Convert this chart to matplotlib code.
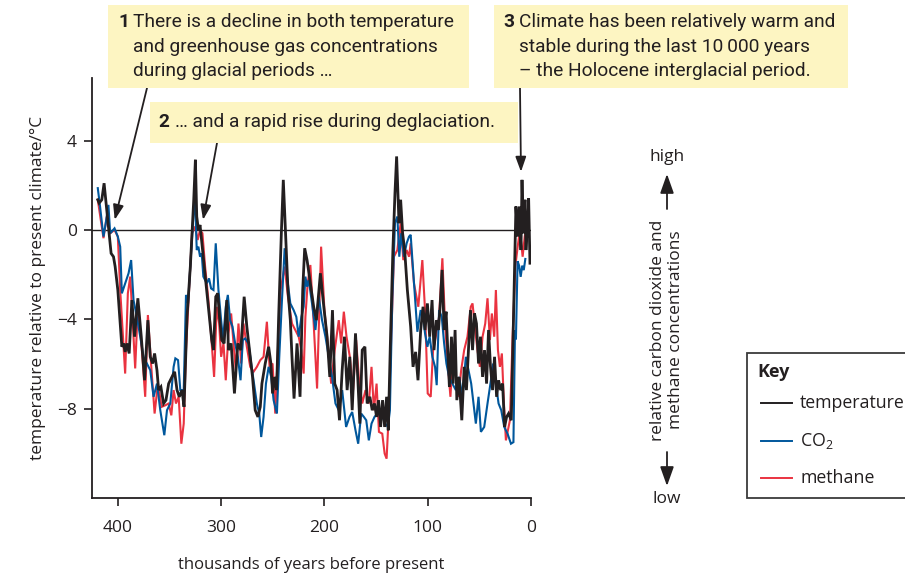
import matplotlib
matplotlib.use("Agg")
import matplotlib.pyplot as plt
from matplotlib.patches import Rectangle, FancyArrowPatch
from matplotlib.lines import Line2D

plt.rcParams['font.family'] = ['Open Sans', 'DejaVu Sans']

# thousands of years before present / degrees relative to present
temp_age = [419.4, 418.1, 415.5, 413.3, 410.7, 408.4, 406.5, 404.2, 402.6, 400.0, 397.7, 396.1, 394.5, 392.9,
            391.3, 389.0, 386.4, 383.8, 380.6, 377.3, 374.1, 370.9, 368.6, 366.3, 364.4, 362.1, 360.5, 358.3,
            355.7, 353.4, 350.8, 347.6, 345.0, 342.7, 340.5, 337.9, 335.9, 333.0, 329.8, 326.5, 324.9,
            323.6, 322.0, 320.4, 309.1, 307.4, 305.2, 303.2, 301.6, 299.4, 297.1, 294.5, 292.9, 290.3, 287.1,
            283.8, 280.9, 277.7, 275.1, 272.5, 269.6, 267.0, 264.4, 262.1, 260.5, 257.3, 254.0, 251.8, 250.2,
            248.2, 246.3, 244.3, 241.7, 239.8, 237.9, 235.3, 233.0, 231.4, 229.4, 226.5, 223.6, 221.0, 219.1,
            216.8, 213.6, 210.4, 207.8, 203.9, 200.6, 197.4, 194.8, 192.2, 190.0, 187.7, 185.4, 182.8, 180.6,
            178.0, 175.4, 173.1, 169.9, 167.6, 165.7, 163.4, 160.8, 158.6, 156.0, 153.7, 151.5, 149.5, 147.6,
            145.6, 143.7, 141.7, 139.8, 138.2, 135.9, 133.7, 131.7, 130.1, 127.8, 126.2, 124.3, 122.3, 119.7,
            116.5, 114.2, 111.7, 109.4, 106.8, 104.5, 102.6, 100.3, 98.1, 95.8, 93.9, 91.6, 89.6, 88.0, 86.1,
            84.1, 82.2, 80.6, 79.0, 77.0, 75.4, 73.5, 71.8, 69.6, 67.0, 64.7, 62.5, 60.5, 58.6, 56.6, 54.7,
            52.8, 50.8, 48.9, 46.9, 45.0, 43.0, 41.1, 39.2, 37.2, 35.3, 33.3, 31.4, 29.4, 27.5, 25.6, 23.6,
            21.7, 19.1, 17.2, 14.6, 12.9, 11.3, 9.7, 8.7, 7.4, 5.8, 4.9, 3.6, 2.3, 1.0]
temp_val = [1.35, 1.2, 1.35, 2.09, 0.9, -0.15, -1.05, -1.2, -1.64, -2.69, -4.19, -5.23, -5.08, -5.46,
            -5.08, -5.53, -3.14, -4.78, -3.06, -4.78, -6.73, -4.04, -5.68, -5.98, -5.53, -6.28, -7.17, -7.03,
            -7.77, -7.62, -6.88, -6.58, -6.35, -7.17, -7.47, -7.17, -7.92, -3.89, -1.64, 1.35, 3.14,
            0.6, 0.0, 0.22, -4.93, -5.38, -2.99, -2.84, -3.89, -4.93, -5.08, -3.14, -5.38, -5.08, -7.32,
            -5.08, -5.38, -2.99, -4.33, -5.38, -6.58, -8.07, -8.37, -7.92, -6.88, -5.98, -5.23, -5.98, -7.32,
            -6.58, -7.17, -3.89, -0.15, 2.24, 0.15, -2.69, -4.04, -5.68, -7.55, -5.08, -7.47, -2.69, -0.82,
            -1.35, -2.39, -3.44, -4.04, -1.94, -3.44, -4.78, -6.58, -3.59, -6.88, -7.17, -8.52, -6.28, -4.78,
            -7.17, -5.68, -8.07, -4.63, -6.73, -8.67, -5.38, -5.23, -7.77, -7.47, -8.07, -7.77, -8.37, -7.62,
            -8.82, -7.62, -8.82, -7.47, -8.97, -4.63, -0.9, 1.64, 3.29, 0.3, 1.35, -0.15, -0.9, -2.69,
            -4.33, -6.13, -5.46, -6.73, -4.48, -3.44, -4.48, -3.29, -4.78, -3.14, -5.38, -4.04, -4.48, -3.44, -1.79,
            -4.48, -3.66, -5.38, -7.03, -4.78, -6.88, -4.48, -7.62, -6.58, -8.52, -6.13, -7.17, -5.38, -3.59, -5.38, -3.74,
            -4.19, -5.98, -4.78, -6.58, -5.38, -6.88, -4.48, -6.13, -7.17, -5.68, -7.47, -6.73, -7.17, -6.88, -8.82, -8.37,
            -8.22, -8.52, -4.48, 1.05, -0.3, 1.05, -0.9, 2.24, -0.15, 1.35, -0.9, 0.15, 1.42, -1.49]

co2_age = [419.4, 417.2, 413.9, 411.7, 409.1, 407.4, 405.8, 403.2, 400.0, 397.7, 396.1, 392.9, 389.6, 387.1,
           384.8, 381.6, 378.3, 375.1, 371.8, 368.6, 365.4, 362.1, 358.9, 355.0, 352.4, 349.2, 346.0, 344.3,
           341.7, 339.5, 336.2, 334.0, 332.0, 329.8, 326.5,
           325.2, 323.6, 322.0, 320.4, 318.8, 317.2, 313.9, 311.7, 309.7, 307.4, 305.2, 302.6, 300.0, 298.1,
           295.5, 293.5, 291.3, 289.0, 286.4, 283.8, 281.2, 279.0, 276.7, 273.5, 270.9, 268.6, 265.4, 263.1,
           261.2, 258.9, 256.6, 254.0, 251.5, 249.2, 246.0, 243.7, 241.1, 238.5, 236.2, 233.0, 229.8, 227.2,
           224.9, 222.3, 220.1,
           218.4, 216.8, 215.2, 212.0, 208.7, 205.5, 202.3, 199.0, 195.8, 192.6, 189.3, 186.1, 182.8, 179.0,
           175.7, 173.1, 169.9, 167.3, 164.4, 161.8, 159.5, 157.0, 154.4, 151.5, 148.9, 146.3, 143.7, 141.1,
           138.5, 136.6, 134.3, 131.7, 129.4, 127.5, 125.6, 123.0, 120.4, 118.1,
           116.5, 113.3, 110.0, 106.8, 104.5, 102.6, 100.3, 98.1, 95.5, 92.9, 91.3, 89.0, 86.4, 84.1, 81.9,
           79.3, 76.1, 72.8, 69.6, 66.3, 63.1, 60.5, 57.9, 55.7, 53.4, 50.8, 48.5, 45.3, 42.1, 38.8, 36.6,
           34.0, 31.4, 28.8, 25.9, 22.7, 19.4, 17.0, 15.5, 14.6, 13.0, 11.5, 10.0, 8.5, 7.0, 5.5]
co2_val = [1.87, 1.05, -0.3, 0.3, 1.12, -0.15, -0.07, 0.07, -0.3, -0.75, -2.84, -2.39, -1.94, -1.35,
           -3.14, -3.89, -4.78, -5.68, -5.98, -6.28, -7.47, -6.88, -8.07, -9.19, -8.07, -7.77, -6.13, -5.75,
           -5.83, -7.17, -7.17, -2.91, -3.29, -1.64, 0.9,
           1.35, -0.9, -0.75, -1.2, -1.05, -2.09, -2.39, -2.17, -2.62, -2.69, -0.6, -2.69, -4.04, -4.93,
           -3.44, -2.91, -4.04, -4.33, -5.08, -5.68, -6.73, -4.93, -4.86, -5.08, -5.98, -6.73, -7.77, -8.22,
           -9.27, -8.37, -6.88, -6.13, -6.58, -7.62, -8.22, -5.68, -3.14, -0.82, -2.09, -3.29, -3.59, -3.89,
           -4.78, -3.89, -3.44,
           -2.09, -2.54, -2.24, -3.29, -4.48, -2.99, -4.04, -4.78, -5.68, -6.58, -7.77, -8.07, -7.17, -8.82,
           -8.37, -8.15, -8.97, -9.57, -8.22, -8.37, -8.52, -9.42, -8.67, -8.37, -8.22, -8.07, -8.37, -8.67,
           -8.82, -8.07, -3.14, 0.3, 0.6, -1.2, -0.15, -1.2, -0.6, -0.3,
           -0.22, -2.39, -4.56, -3.59, -3.89, -4.63, -5.23, -4.78, -5.68, -6.13, -6.95, -3.59, -3.89, -5.08, -5.98,
           -6.58, -6.88, -7.17, -6.58, -7.47, -5.68, -6.28, -6.88, -7.77, -8.67, -7.47, -9.04, -8.82, -7.77, -6.73, -5.98,
           -6.88, -7.77, -8.07, -8.82, -9.12, -9.57, -9.5, -4.5, -4.9, -1.4, -1.6, -2.1, -1.6, -1.8, -1.3]

ch4_age = [419.4, 413.9, 410.7, 407.4, 403.2, 400.0, 397.7, 392.9, 390.3, 388.0, 385.8, 383.2, 380.6, 376.7,
           373.5, 370.9, 367.6, 364.4, 361.2, 357.6, 354.0, 350.8, 348.2, 346.0, 343.7, 341.1, 338.5, 336.2,
           334.0, 330.7, 328.2,
           325.2, 322.7, 320.4, 318.1, 315.5, 312.3, 309.1, 306.8, 304.2, 301.9, 300.0, 297.7, 295.5, 292.9,
           290.3, 288.0, 285.8, 283.2, 280.6, 278.3, 275.1, 271.8, 268.6, 265.4, 262.1, 258.9, 255.7, 253.1,
           250.2, 247.6, 245.0, 242.4, 238.5, 235.3, 231.4, 228.2, 224.9, 222.3, 220.1,
           218.4, 216.2, 213.6, 210.4, 207.1, 203.2, 200.0, 196.8, 193.5, 190.0, 186.1, 183.8, 181.2, 178.6,
           175.4, 172.2, 169.3, 166.7, 163.4, 160.2, 157.0, 154.4, 152.1, 149.5, 147.2, 144.0, 141.7, 139.8,
           137.5, 135.3, 132.7, 129.4, 126.2, 123.6, 120.4, 118.1,
           116.5, 113.3, 109.1, 105.2, 102.6, 100.0, 97.1, 94.8, 92.2, 89.0, 85.8, 83.2, 80.6, 78.0, 75.4,
           72.8, 70.2, 67.6, 64.7, 61.5, 58.3, 56.6, 54.0, 51.8, 49.5, 46.9, 44.3, 42.1, 39.8, 37.9, 35.6,
           34.0, 32.0, 30.1, 28.2, 26.2, 24.3, 22.3, 20.4, 17.8, 15.2, 12.9, 10.7, 8.1, 6.1, 4.2]
ch4_val = [1.35, -0.37, 0.6, -0.15, 0.0, -0.3, -2.69, -6.43, -2.84, -2.09, -3.89, -6.2, -3.44, -5.38,
           -7.47, -3.81, -6.13, -8.22, -6.88, -7.92, -7.85, -7.77, -8.3, -7.17, -7.77, -7.47, -9.57, -8.67,
           -5.38, -2.39, -0.15,
           0.15, -0.45, 0.0, -0.15, -1.64, -3.14, -5.08, -6.58, -3.44, -4.19, -5.68, -5.08, -6.73, -4.63,
           -3.74, -5.08, -6.28, -4.19, -5.98, -4.19, -5.23, -6.13, -6.35, -6.13, -5.83, -5.68, -4.11, -6.13,
           -5.98, -8.22, -5.38, -2.69, -1.64, -2.99, -4.19, -4.48, -4.78, -5.38, -6.43,
           -3.89, -2.39, -1.57, -4.19, -7.1, -0.75, -3.59, -5.08, -6.88, -5.38, -4.04, -5.08, -3.66, -4.78,
           -5.68, -7.17, -4.93, -6.58, -7.77, -7.17, -7.77, -6.13, -8.07, -6.88, -9.04, -9.12, -10.01, -10.24,
           -8.07, -4.78, -1.2, -0.9, 0.3, -1.35, -0.9, -1.2,
           -0.6, -2.39, -3.44, -1.35, -3.59, -7.32, -7.47, -5.38, -4.78, -3.89, -1.27, -4.19, -5.98, -7.47, -5.38,
           -6.58, -7.47, -6.28, -5.38, -4.78, -3.44, -3.29, -4.48, -5.38, -6.13, -4.78, -4.19, -3.06, -4.93, -3.74, -4.78,
           -2.69, -5.38, -6.13, -5.53, -7.77, -9.42, -8.97, -8.52, -4.78, -1.64, -0.75, 0.0, -1.2, -0.3, 0.15]

x_ticks = [400, 300, 200, 100, 0]
y_ticks = [4, 0, -4, -8]

INK = '#231f20'
BLUE = '#00579c'
RED = '#ea3340'
YELLOW = '#fdf5c2'

W, H = 905, 574
fig = plt.figure(figsize=(W / 100, H / 100), dpi=100)


def fx(x):
    return x / W


def fy(y):
    return 1 - y / H


ax = fig.add_axes([fx(92), fy(498), fx(531) - fx(92), fy(78) - fy(498)])
ax.plot(ch4_age, ch4_val, color=RED, lw=1.5, solid_joinstyle='miter')
ax.plot(co2_age, co2_val, color=BLUE, lw=1.5, solid_joinstyle='miter')
ax.plot(temp_age, temp_val, color=INK, lw=2.0, solid_joinstyle='miter')
ax.axhline(0, color=INK, lw=1.0, zorder=0.5)

ax.set_xlim(425, 0)
ax.set_ylim(-12, 6.8)
ax.set_xticks(x_ticks)
ax.set_yticks(y_ticks)
ax.set_yticklabels(['4', '0', '\u22124', '\u22128'])
for s in ['top', 'right']:
    ax.spines[s].set_visible(False)
for s in ['left', 'bottom']:
    ax.spines[s].set_color(INK)
    ax.spines[s].set_linewidth(1.3)
ax.tick_params(axis='both', colors=INK, width=1.2, length=6, labelsize=12.5, pad=5)
ax.tick_params(axis='x', pad=10)
ax.set_xlabel('thousands of years before present', fontsize=12, color=INK, labelpad=15)
ax.set_ylabel('temperature relative to present climate/\u00b0C', fontsize=12.5, color=INK, labelpad=8)

# callout boxes
box_font = ['Roboto', 'DejaVu Sans']
boxes = [(108, 5, 361, 83), (150, 102, 368, 41), (494, 5, 354, 83)]
for (bx, by, bw, bh) in boxes:
    fig.add_artist(Rectangle((fx(bx), fy(by + bh)), bw / W, bh / H, transform=fig.transFigure,
                             facecolor=YELLOW, edgecolor='none', zorder=3))

callouts = [
    ('1', 118, 133, ['There is a decline in both temperature',
                     'and greenhouse gas concentrations',
                     'during glacial periods \u2026'], 22),
    ('2', 158, 175, ['\u2026 and a rapid rise during deglaciation.'], 122),
    ('3', 503, 519, ['Climate has been relatively warm and',
                     'stable during the last 10\u2009000 years',
                     '\u2013 the Holocene interglacial period.'], 22),
]
for num, nx, tx, lines, y0 in callouts:
    fig.text(fx(nx), fy(y0), num, fontsize=13.8, fontweight='bold', family=box_font,
             color=INK, va='center', ha='left', zorder=4)
    for i, line in enumerate(lines):
        fig.text(fx(tx), fy(y0 + i * 24.5), line, fontsize=13.8, family=box_font,
                 color=INK, va='center', ha='left', zorder=4)

arrow_kw = dict(arrowstyle='-|>,head_length=0.9,head_width=0.32', color=INK, lw=1.3,
                shrinkA=0, shrinkB=0)
ax.annotate('', xy=(403, 0.45), xycoords='data', xytext=(fx(147), fy(88)),
            textcoords='figure fraction', arrowprops=arrow_kw, annotation_clip=False)
ax.annotate('', xy=(317.5, 0.45), xycoords='data', xytext=(fx(217), fy(143)),
            textcoords='figure fraction', arrowprops=arrow_kw, annotation_clip=False)
ax.annotate('', xy=(9.7, 2.6), xycoords='data', xytext=(fx(520), fy(88)),
            textcoords='figure fraction', arrowprops=arrow_kw, annotation_clip=False)

# concentration scale on the right
fig.text(fx(667), fy(157), 'high', fontsize=12.5, color=INK, ha='center', va='center')
fig.text(fx(667), fy(499), 'low', fontsize=12.5, color=INK, ha='center', va='center')
fig.text(fx(667), fy(330), 'relative carbon dioxide and\nmethane concentrations', fontsize=12.5,
         color=INK, ha='center', va='center', rotation=90, linespacing=1.1)
side_kw = dict(arrowstyle='-|>,head_length=0.9,head_width=0.32', color=INK, lw=1.3,
               shrinkA=0, shrinkB=0, mutation_scale=13)
fig.add_artist(FancyArrowPatch((fx(667), fy(209)), (fx(667), fy(174)),
                               transform=fig.transFigure, **side_kw))
fig.add_artist(FancyArrowPatch((fx(667), fy(452)), (fx(667), fy(486)),
                               transform=fig.transFigure, **side_kw))

# key
fig.add_artist(Rectangle((fx(747), fy(498)), (920 - 747) / W, (498 - 353) / H,
                         transform=fig.transFigure, facecolor='white', edgecolor='#3a3a3a', lw=1.3))
fig.text(fx(757), fy(372), 'Key', fontsize=13, fontweight='bold', color=INK, ha='left', va='center')
key_items = [('temperature', INK, 403), ('$\\mathregular{CO_2}$', BLUE, 441), ('methane', RED, 478)]
for label, col, ky in key_items:
    fig.add_artist(Line2D([fx(761), fx(792)], [fy(ky), fy(ky)], transform=fig.transFigure,
                          color=col, lw=1.4))
    fig.text(fx(800), fy(ky), label, fontsize=12.8, color=INK, ha='left', va='center')

fig.savefig('out.png', dpi=100)
